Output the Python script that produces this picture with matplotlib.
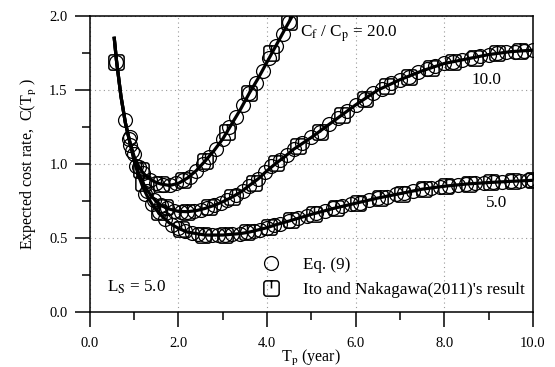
import matplotlib
matplotlib.use("Agg")
import matplotlib.pyplot as plt
from matplotlib.path import Path
from matplotlib.lines import Line2D

plt.rcParams['font.family'] = ['Liberation Serif', 'DejaVu Serif']
plt.rcParams['mathtext.fontset'] = 'stix'

# curves (Tp, C(Tp))
x20 = [0.55, 0.6, 0.7, 0.8, 0.9, 1.0, 1.1, 1.2, 1.3, 1.4, 1.5, 1.6, 1.8, 2.0,
       2.2, 2.4, 2.6, 2.8, 3.0, 3.2, 3.4, 3.6, 3.8, 4.0, 4.2, 4.4, 4.55]
y20 = [1.85, 1.70, 1.46, 1.28, 1.15, 1.05, 0.985, 0.94, 0.91, 0.89, 0.875, 0.865,
       0.855, 0.87, 0.905, 0.955, 1.02, 1.09, 1.17, 1.27, 1.37, 1.48, 1.58, 1.69,
       1.80, 1.91, 1.99]

x10 = [0.55, 0.6, 0.7, 0.8, 0.9, 1.0, 1.1, 1.2, 1.3, 1.4, 1.5, 1.6, 1.8, 2.0,
       2.2, 2.4, 2.6, 2.8, 3.0, 3.2, 3.4, 3.6, 3.8, 4.0, 4.2, 4.4, 4.6, 4.8,
       5.0, 5.5, 6.0, 6.5, 7.0, 7.5, 8.0, 8.5, 9.0, 9.5, 10.0]
y10 = [1.85, 1.70, 1.46, 1.28, 1.15, 1.03, 0.94, 0.87, 0.82, 0.78, 0.745, 0.72,
       0.695, 0.68, 0.678, 0.685, 0.70, 0.72, 0.745, 0.775, 0.81, 0.855, 0.90,
       0.955, 1.005, 1.05, 1.10, 1.14, 1.18, 1.29, 1.40, 1.50, 1.57, 1.63, 1.68,
       1.71, 1.74, 1.76, 1.77]

x5 = [0.55, 0.6, 0.7, 0.8, 0.9, 1.0, 1.1, 1.2, 1.3, 1.4, 1.5, 1.6, 1.8, 2.0,
      2.2, 2.4, 2.6, 2.8, 3.0, 3.2, 3.4, 3.6, 3.8, 4.0, 4.2, 4.5, 5.0, 5.5,
      6.0, 6.5, 7.0, 7.5, 8.0, 8.5, 9.0, 9.5, 10.0]
y5 = [1.85, 1.70, 1.46, 1.28, 1.15, 1.02, 0.92, 0.84, 0.78, 0.73, 0.69, 0.655,
      0.60, 0.565, 0.54, 0.53, 0.52, 0.52, 0.52, 0.525, 0.53, 0.54, 0.555, 0.57,
      0.59, 0.615, 0.66, 0.70, 0.735, 0.77, 0.80, 0.83, 0.85, 0.865, 0.875,
      0.883, 0.89]

# Eq. (9) points
c20_x = [0.6, 0.79, 0.88, 0.95, 1.1, 1.2, 1.35, 1.5, 1.65, 1.8, 1.95, 2.1, 2.25,
         2.4, 2.55, 2.7, 2.85, 3.0, 3.15, 3.3, 3.45, 3.6, 3.75, 3.9, 4.05, 4.2,
         4.35, 4.5]
c20_y = [1.69, 1.30, 1.17, 1.09, 0.98, 0.94, 0.89, 0.875, 0.86, 0.855, 0.87, 0.89,
         0.915, 0.955, 1.0, 1.05, 1.10, 1.17, 1.25, 1.32, 1.40, 1.48, 1.55, 1.63,
         1.72, 1.80, 1.88, 1.96]
c10_x = [0.9, 1.05, 1.3, 1.45, 1.6, 1.75, 1.9, 2.05, 2.2, 2.35, 2.5, 2.65, 2.8,
         2.95, 3.1, 3.3, 3.45, 3.6, 3.8, 3.95, 4.1, 4.3, 4.45, 4.6, 4.8, 5.0,
         5.2, 5.4, 5.6, 5.8, 6.0, 6.2, 6.4, 6.6, 6.8, 7.0, 7.2, 7.4, 7.6, 7.8,
         8.0, 8.2, 8.4, 8.6, 8.8, 9.0, 9.2, 9.4, 9.6, 9.8, 10.0]
c10_y = [1.13, 0.99, 0.82, 0.76, 0.72, 0.70, 0.685, 0.678, 0.678, 0.683, 0.69,
         0.70, 0.72, 0.74, 0.76, 0.79, 0.82, 0.85, 0.90, 0.945, 0.985, 1.03,
         1.06, 1.10, 1.14, 1.18, 1.22, 1.27, 1.31, 1.36, 1.40, 1.44, 1.48, 1.51,
         1.545, 1.57, 1.59, 1.62, 1.64, 1.66, 1.68, 1.69, 1.705, 1.715, 1.73,
         1.74, 1.75, 1.755, 1.76, 1.765, 1.77]
c5_x = [0.9, 1.0, 1.25, 1.4, 1.55, 1.7, 1.85, 2.0, 2.15, 2.3, 2.45, 2.6, 2.75,
        2.9, 3.05, 3.2, 3.4, 3.55, 3.7, 3.85, 4.0, 4.15, 4.3, 4.5, 4.7, 4.9,
        5.1, 5.3, 5.5, 5.7, 5.9, 6.1, 6.3, 6.5, 6.7, 6.9, 7.1, 7.3, 7.5, 7.7,
        7.9, 8.1, 8.3, 8.5, 8.7, 8.9, 9.1, 9.3, 9.5, 9.7, 9.9, 10.0]
c5_y = [1.185, 1.07, 0.80, 0.73, 0.675, 0.63, 0.59, 0.565, 0.545, 0.535, 0.525,
        0.52, 0.52, 0.52, 0.52, 0.525, 0.53, 0.54, 0.545, 0.555, 0.57, 0.585,
        0.595, 0.615, 0.635, 0.65, 0.67, 0.685, 0.70, 0.715, 0.73, 0.74, 0.755,
        0.77, 0.78, 0.795, 0.805, 0.815, 0.83, 0.84, 0.845, 0.85, 0.86, 0.865,
        0.87, 0.873, 0.877, 0.88, 0.883, 0.886, 0.889, 0.89]

# Ito and Nakagawa (2011) points
s20_x = [0.6, 1.15, 1.6, 2.1, 2.6, 3.1, 3.6, 4.1, 4.5]
s20_y = [1.69, 0.96, 0.865, 0.89, 1.02, 1.22, 1.48, 1.75, 1.96]
s10_x = [1.2, 1.7, 2.2, 2.7, 3.2, 3.7, 4.2, 4.7, 5.2, 5.7, 6.2, 6.7, 7.2, 7.7,
         8.2, 8.7, 9.2, 9.7]
s10_y = [0.87, 0.71, 0.678, 0.71, 0.775, 0.875, 1.01, 1.12, 1.22, 1.335, 1.44,
         1.53, 1.59, 1.65, 1.69, 1.72, 1.75, 1.765]
s5_x = [1.55, 2.05, 2.55, 3.05, 3.55, 4.05, 4.55, 5.05, 5.55, 6.05, 6.55, 7.05,
        7.55, 8.05, 8.55, 9.05, 9.55, 10.0]
s5_y = [0.675, 0.56, 0.52, 0.52, 0.54, 0.575, 0.62, 0.665, 0.705, 0.74, 0.77,
        0.80, 0.83, 0.85, 0.865, 0.876, 0.884, 0.89]

# rounded square with a short vertical tick
r = 0.35
verts = [(-1 + r, -1), (1 - r, -1), (1, -1), (1, -1 + r), (1, 1 - r), (1, 1),
         (1 - r, 1), (-1 + r, 1), (-1, 1), (-1, 1 - r), (-1, -1 + r), (-1, -1),
         (-1 + r, -1), (0, 0), (0, 1), (0, 0)]
codes = [Path.MOVETO, Path.LINETO, Path.CURVE3, Path.CURVE3, Path.LINETO,
         Path.CURVE3, Path.CURVE3, Path.LINETO, Path.CURVE3, Path.CURVE3,
         Path.LINETO, Path.CURVE3, Path.CURVE3, Path.CLOSEPOLY, Path.MOVETO,
         Path.LINETO]
sq = Path(verts, codes)

fig = plt.figure(figsize=(5.55, 3.67), dpi=100)
ax = fig.add_axes([0.162, 0.150, 0.798, 0.806])

circ = dict(linestyle='none', marker='o', markersize=10, mfc='none',
            mec='black', mew=0.9)
sqr = dict(linestyle='none', marker=sq, markersize=11, mfc='none',
           mec='black', mew=1.1)

for xs, ys in [(x20, y20), (x10, y10), (x5, y5)]:
    ax.plot(xs, ys, color='black', lw=2.3, zorder=3)
for xs, ys in [(c20_x, c20_y), (c10_x, c10_y), (c5_x, c5_y)]:
    ax.plot(xs, ys, zorder=4, **circ)
for xs, ys in [(s20_x, s20_y), (s10_x, s10_y), (s5_x, s5_y)]:
    ax.plot(xs, ys, zorder=4, **sqr)

ax.set_xlim(0, 10)
ax.set_ylim(0, 2)
ax.set_xticks([0, 2, 4, 6, 8, 10])
ax.set_xticks([1, 3, 5, 7, 9], minor=True)
ax.set_yticks([0, 0.5, 1.0, 1.5, 2.0])
ax.set_yticks([0.25, 0.75, 1.25, 1.75], minor=True)
ax.set_xticklabels(['0.0', '2.0', '4.0', '6.0', '8.0', '10.0'])
ax.set_yticklabels(['0.0', '0.5', '1.0', '1.5', '2.0'])
ax.tick_params(which='major', direction='out', length=11, width=1.1,
               labelsize=10.5, pad=5)
ax.tick_params(which='minor', direction='out', length=6, width=1.1)
ax.tick_params(axis='x', which='major', pad=7)
for s in ax.spines.values():
    s.set_linewidth(1.1)
ax.grid(True, which='major', linestyle=(0, (1, 3)), color='#999999', lw=0.8)

ax.set_xlabel('T$_\\mathrm{p}$ (year)', fontsize=11.5, labelpad=-1.5)
ax.set_ylabel('Expected cost rate,  C(T$_\\mathrm{p}$ )', fontsize=11.5,
              labelpad=7)

ax.text(4.74, 1.88, 'C$_\\mathrm{f}$ / C$_\\mathrm{p}$ = 20.0', fontsize=12.3,
        va='center', ha='left')
ax.text(8.96, 1.57, '10.0', fontsize=12.3, va='center', ha='center')
ax.text(9.19, 0.735, '5.0', fontsize=12.3, va='center', ha='center')
ax.text(0.38, 0.17, 'L$_\\mathrm{S}$ = 5.0', fontsize=12.3, va='center',
        ha='left')

h1 = Line2D([], [], **circ)
h2 = Line2D([], [], **sqr)
ax.legend([h1, h2], ['Eq. (9)', "Ito and Nakagawa(2011)'s result"],
          loc='center left', bbox_to_anchor=(0.37, 0.117), frameon=False,
          fontsize=12.3, handlelength=1.2, handletextpad=1.3,
          labelspacing=0.5, borderaxespad=0)

fig.savefig('out.png', dpi=100)
